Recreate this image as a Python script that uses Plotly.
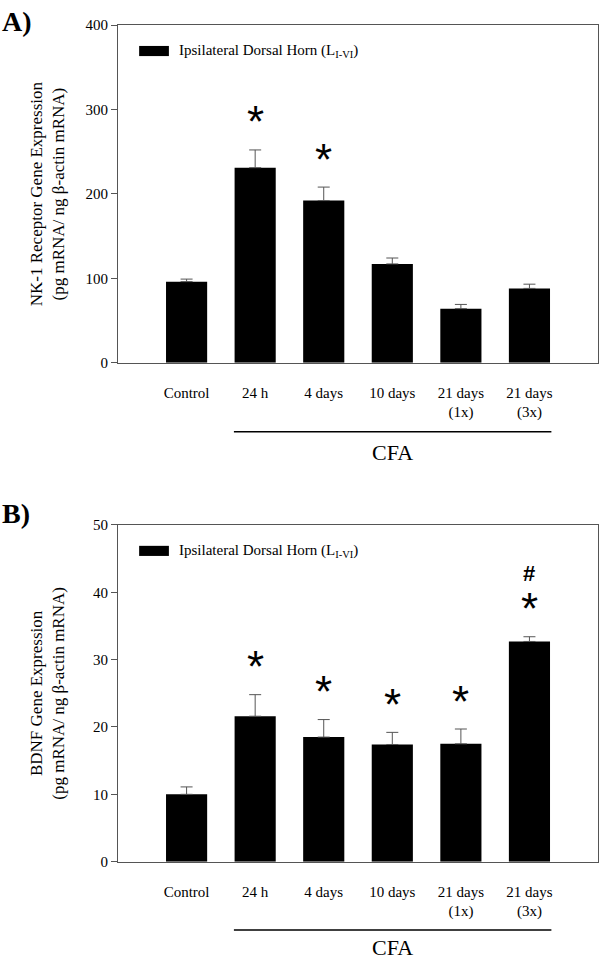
import plotly.graph_objects as go

FONT = "Liberation Serif, Times New Roman, serif"

# categories (x positions 1..6)
groups = ["Control", "24 h", "4 days", "10 days", "21 days<br>(1x)", "21 days<br>(3x)"]
xpos = [1, 2, 3, 4, 5, 6]

# panel A: NK-1 receptor gene expression
nk1_mean = [96, 231, 192, 117, 64, 88]
nk1_sem = [3, 21, 16, 7, 5, 5]
nk1_marks = ["", "*", "*", "", "", ""]

# panel B: BDNF gene expression
bdnf_mean = [10.0, 21.6, 18.5, 17.4, 17.5, 32.7]
bdnf_sem = [1.1, 3.2, 2.6, 1.8, 2.2, 0.7]
bdnf_marks = ["", "*", "*", "*", "*", "*"]
bdnf_hash = ["", "", "", "", "", "#"]

a_ticks = [0, 100, 200, 300, 400]
b_ticks = [0, 10, 20, 30, 40, 50]

fig = go.Figure()


def add_bars(mean, sem, xa, ya):
    fig.add_trace(
        go.Bar(
            x=xpos,
            y=mean,
            width=0.6,
            marker=dict(color="black", line=dict(width=0)),
            error_y=dict(
                type="data",
                symmetric=False,
                array=sem,
                arrayminus=[0] * len(sem),
                color="#555555",
                thickness=1,
                width=6,
            ),
            xaxis=xa,
            yaxis=ya,
            showlegend=False,
        )
    )


add_bars(nk1_mean, nk1_sem, "x", "y")
add_bars(bdnf_mean, bdnf_sem, "x2", "y2")

annotations = []
shapes = []


def stars(mean, sem, marks, xa, ya, shift):
    for x, m, s, t in zip(xpos, mean, sem, marks):
        if t:
            annotations.append(
                dict(
                    x=x, y=m + s, xref=xa, yref=ya, text=t, showarrow=False,
                    yanchor="middle", yshift=shift,
                    font=dict(family="Liberation Sans, Arial", size=44, color="black"),
                )
            )


stars(nk1_mean, nk1_sem, nk1_marks, "x", "y", 28)
stars(bdnf_mean, bdnf_sem, bdnf_marks, "x2", "y2", 28)
for x, m, s, t in zip(xpos, bdnf_mean, bdnf_sem, bdnf_hash):
    if t:
        annotations.append(
            dict(
                x=x, y=m + s, xref="x2", yref="y2", text="<b>%s</b>" % t, showarrow=False,
                yanchor="middle", yshift=63,
                font=dict(family="Liberation Sans, Arial", size=22, color="black"),
            )
        )


def panel_extras(xa, ya, label, label_y, title, line_y, cfa_y):
    # legend box
    shapes.append(
        dict(type="rect", xref=xa + " domain", yref=ya + " domain",
             x0=0.044, x1=0.106, y0=0.908, y1=0.938,
             fillcolor="black", line=dict(width=0))
    )
    annotations.append(
        dict(x=0.122, y=0.923, xref=xa + " domain", yref=ya + " domain",
             text="Ipsilateral Dorsal Horn (L<sub>I-VI</sub>)", showarrow=False,
             xanchor="left", yanchor="middle",
             font=dict(family=FONT, size=15, color="black"))
    )
    # panel letter
    annotations.append(
        dict(x=0.0, y=label_y, xref="paper", yref="paper", text="<b>%s</b>" % label,
             showarrow=False, xanchor="left", yanchor="middle",
             font=dict(family=FONT, size=28, color="black"))
    )
    # y title
    annotations.append(
        dict(x=0.079, y=0.5, xref="paper", yref=ya + " domain", text=title,
             showarrow=False, textangle=-90, xanchor="center", yanchor="middle",
             font=dict(family=FONT, size=17, color="black"))
    )
    # CFA bracket line
    shapes.append(
        dict(type="line", xref=xa, yref="paper", x0=xpos[1] - 0.31, x1=xpos[-1] + 0.32,
             y0=line_y, y1=line_y, line=dict(color="black", width=1.5))
    )
    annotations.append(
        dict(x=(xpos[1] - 0.31 + xpos[-1] + 0.32) / 2, y=cfa_y, xref=xa, yref="paper",
             text="CFA", showarrow=False, xanchor="center", yanchor="middle",
             font=dict(family=FONT, size=22, color="black"))
    )


panel_extras("x", "y", "A)", 0.978,
             "NK-1 Receptor Gene Expression<br>(pg mRNA/ ng β-actin mRNA)", 0.5512, 0.530)
panel_extras("x2", "y2", "B)", 0.4657,
             "BDNF Gene Expression<br>(pg mRNA/ ng β-actin mRNA)", 0.0333, 0.0146)

xaxis_common = dict(
    range=[0, 7],
    tickvals=xpos,
    ticktext=groups,
    ticks="",
    ticklabelstandoff=16,
    showline=True,
    mirror=True,
    linecolor="#555555",
    linewidth=1,
    showgrid=False,
    zeroline=False,
    automargin=False,
    tickfont=dict(family=FONT, size=15, color="black"),
    domain=[0.1967, 0.9967],
)
yaxis_common = dict(
    ticks="outside",
    ticklen=6,
    tickcolor="#555555",
    showline=True,
    mirror=True,
    linecolor="#555555",
    linewidth=1,
    showgrid=False,
    zeroline=False,
    automargin=False,
    tickfont=dict(family=FONT, size=15, color="black"),
)

fig.update_layout(
    width=600,
    height=962,
    margin=dict(l=0, r=0, t=0, b=0, autoexpand=False),
    paper_bgcolor="white",
    plot_bgcolor="white",
    showlegend=False,
    bargap=0.4,
    xaxis=dict(xaxis_common, anchor="y"),
    yaxis=dict(yaxis_common, range=[0, 400], tickvals=a_ticks, domain=[0.6230, 0.9740], anchor="x"),
    xaxis2=dict(xaxis_common, anchor="y2"),
    yaxis2=dict(yaxis_common, range=[0, 50], tickvals=b_ticks, domain=[0.1043, 0.4543], anchor="x2"),
    annotations=annotations,
    shapes=shapes,
)

# drop the browser's default body margin so the figure fills the window
fig.write_html(
    "out.html",
    config={"displayModeBar": False},
    post_script="document.body.style.margin = '0';",
)
